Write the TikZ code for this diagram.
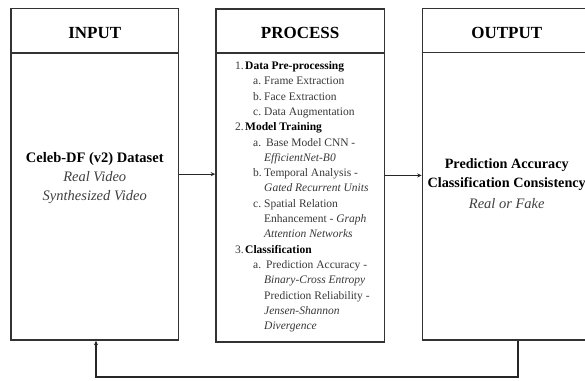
\documentclass[tikz,border=0pt]{standalone}
\usepackage{fontspec}
\setmainfont{Liberation Serif}
\usetikzlibrary{arrows.meta}
\definecolor{edge}{HTML}{333333}
\definecolor{txtgray}{HTML}{383838}
\definecolor{itgray}{HTML}{404040}
\tikzset{
  box/.style={draw=edge, line width=1.6pt, rectangle, inner sep=0pt, fill=white},
  divline/.style={draw=edge, line width=1.6pt},
  head/.style={font=\fontsize{17}{20}\selectfont\bfseries, text=black, anchor=base, inner sep=0pt},
  maintxt/.style={font=\fontsize{14.5}{17}\selectfont, anchor=base, inner sep=0pt},
  steptxt/.style={font=\fontsize{11.5}{13}\selectfont, text=txtgray, anchor=base west, inner sep=0pt},
  arr/.style={draw=black!85, line width=1.1pt, -{Stealth[length=4.5pt,width=4pt]}}
}
\newcommand{\lbl}[2]{\makebox[#1][l]{#2}}
\begin{document}
\begin{tikzpicture}[x=1pt,y=-1pt]
\clip (0,0) rectangle (585,380);
\fill[white] (0,0) rectangle (585,380);
% boxes
\node[box, minimum width=167.5pt, minimum height=331.7pt] (in) at (94.75,174.15) {};
\node[box, minimum width=168.3pt, minimum height=332.5pt] (proc) at (300.15,175.45) {};
\node[box, minimum width=168.5pt, minimum height=331.7pt] (out) at (506.75,174.15) {};
% header dividers
\draw[divline] (in.west |- 0,53) -- (in.east |- 0,53);
\draw[divline] (proc.west |- 0,52.8) -- (proc.east |- 0,52.8);
\draw[divline] (out.west |- 0,52.5) -- (out.east |- 0,52.5);
% headers
\node[head] (hin) at (94.75,38.8) {INPUT};
\node[head] (hproc) at (300.15,38.8) {PROCESS};
\node[head] (hout) at (506.75,38.8) {OUTPUT};
% input text
\node[maintxt, font=\fontsize{14.5}{17}\selectfont\bfseries] (in1) at (94.75,162) {Celeb-DF (v2) Dataset};
\node[maintxt, font=\fontsize{14.5}{17}\selectfont\itshape, text=itgray] (in2) at (94.75,181) {Real Video};
\node[maintxt, font=\fontsize{14.5}{17}\selectfont\itshape, text=itgray] (in3) at (94.75,200) {Synthesized Video};
% output text
\node[maintxt, font=\fontsize{14.2}{17}\selectfont\bfseries] (out1) at (506.75,168) {Prediction Accuracy};
\node[maintxt, font=\fontsize{14.2}{17}\selectfont\bfseries] (out2) at (506.75,187.5) {Classification Consistency};
\node[maintxt, font=\fontsize{14.5}{17}\selectfont\itshape, text=itgray] (out3) at (506.75,208) {Real or Fake};
% process steps
\node[steptxt] (s1) at (235,69.5) {\lbl{10pt}{1.}\textbf{\color{black}Data Pre-processing}};
\node[steptxt] (s2) at (253,84.8) {\lbl{11pt}{a.}Frame Extraction};
\node[steptxt] (s3) at (253,100.1) {\lbl{11pt}{b.}Face Extraction};
\node[steptxt] (s4) at (253,115.4) {\lbl{11pt}{c.}Data Augmentation};
\node[steptxt] (s5) at (235,130.7) {\lbl{10pt}{2.}\textbf{\color{black}Model Training}};
\node[steptxt] (s6) at (253,146.0) {\lbl{13pt}{a.}Base Model CNN -};
\node[steptxt] (s7) at (264,161.3) {\textit{EfficientNet-B0}};
\node[steptxt] (s8) at (253,176.6) {\lbl{11pt}{b.}Temporal Analysis -};
\node[steptxt] (s9) at (264,191.9) {\textit{Gated Recurrent Units}};
\node[steptxt] (s10) at (253,207.2) {\lbl{11pt}{c.}Spatial Relation};
\node[steptxt] (s11) at (264,222.5) {Enhancement - \textit{Graph}};
\node[steptxt] (s12) at (264,237.8) {\textit{Attention Networks}};
\node[steptxt] (s13) at (235,253.1) {\lbl{10pt}{3.}\textbf{\color{black}Classification}};
\node[steptxt] (s14) at (253,268.4) {\lbl{13pt}{a.}Prediction Accuracy -};
\node[steptxt] (s15) at (264,283.7) {\textit{Binary-Cross Entropy}};
\node[steptxt] (s16) at (264,299.0) {Prediction Reliability -};
\node[steptxt] (s17) at (264,314.3) {\textit{Jensen-Shannon}};
\node[steptxt] (s18) at (264,329.6) {\textit{Divergence}};
% connectors
\draw[arr] (in.east) -- (in.east -| proc.west);
\draw[arr] (proc.east) -- (proc.east -| out.west);
\coordinate (fb1) at (518,377);
\coordinate (fb2) at (96,377);
\draw[arr] (out.south -| fb1) -- (fb1) -- (fb2) -- (fb2 |- in.south);
\end{tikzpicture}
\end{document}
